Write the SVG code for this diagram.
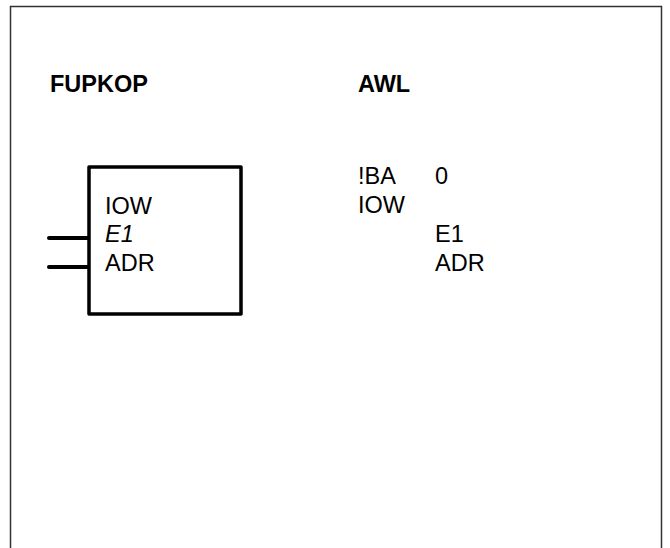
<svg xmlns="http://www.w3.org/2000/svg" width="670" height="548" viewBox="0 0 670 548">
<style>
.t{font-family:"Liberation Sans",Arial,sans-serif;font-size:23.5px;fill:#000}
.h{font-weight:bold}
.i{font-style:italic}
.frame{fill:none;stroke:#333;stroke-width:1.5}
.box{fill:#fff;stroke:#000;stroke-width:3.5;stroke-linejoin:round}
.pin{stroke:#000;stroke-width:4;stroke-linecap:round}
</style>
<rect width="670" height="548" fill="#fff"/>
<path class="frame" d="M10.5,548 V6.5 H661.5 V548"/>
<text class="t h" x="50" y="92">FUPKOP</text>
<text class="t h" x="358" y="92">AWL</text>
<g id="connectors">
<line class="pin" x1="49" y1="238" x2="89" y2="238"/>
<line class="pin" x1="49" y1="267" x2="89" y2="267"/>
</g>
<g id="block">
<rect class="box" x="89" y="167" width="152" height="147"/>
<text class="t" x="105" y="214">IOW</text>
<text class="t i" x="105" y="242">E1</text>
<text class="t" x="105" y="271">ADR</text>
</g>
<g id="awl">
<text class="t" x="358" y="184">!BA</text>
<text class="t" x="435" y="184">0</text>
<text class="t" x="358" y="213">IOW</text>
<text class="t" x="435" y="242">E1</text>
<text class="t" x="435" y="271">ADR</text>
</g>
</svg>
